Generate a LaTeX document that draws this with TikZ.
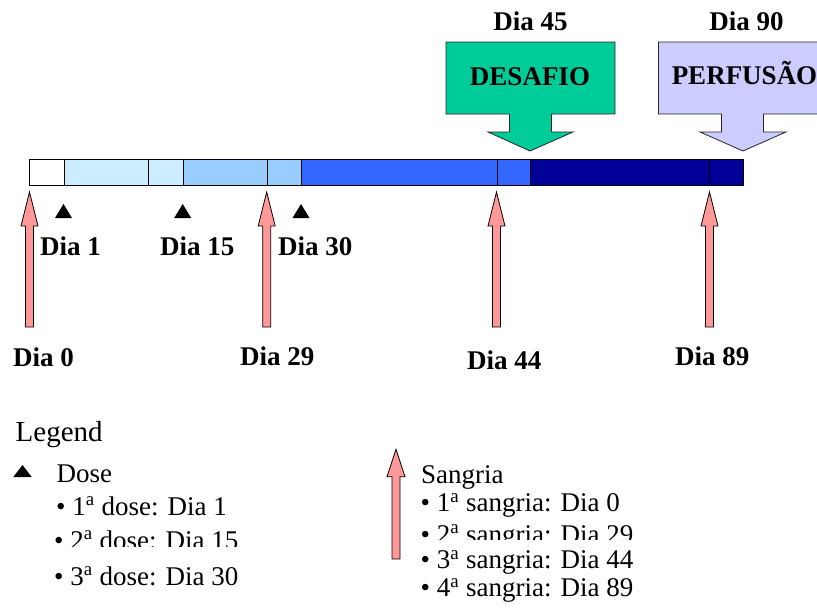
\documentclass[tikz,border=0pt]{standalone}
\usepackage{fontspec}
\setmainfont{Liberation Serif}
\definecolor{sangcol}{HTML}{FF9999}
\definecolor{cLight}{HTML}{CCECFF}
\definecolor{cMid}{HTML}{99CCFF}
\definecolor{cBlue}{HTML}{3366FF}
\definecolor{cNavy}{HTML}{000099}
\definecolor{cDesafio}{HTML}{00CC99}
\definecolor{cPerf}{HTML}{CCCCFF}
\begin{document}
\begin{tikzpicture}[x=1pt,y=-1pt,
  bar/.style={draw=black, line width=0.8pt},
  sangarrow/.style={fill=sangcol, draw=black, line width=0.8pt},
  callout/.style={draw=black!85, line width=0.8pt},
  lbl/.style={font=\fontsize{27}{32}\selectfont\bfseries, inner sep=0pt},
  leg/.style={font=\fontsize{27}{32}\selectfont, inner sep=0pt, anchor=base west},
  pics/sangria/.style={code={\draw[sangarrow] (0,0) -- (8.5,34) -- (4,34) -- (4,135) -- (-4,135) -- (-4,34) -- (-8.5,34) -- cycle;}},
  pics/dosetri/.style={code={\fill[black] (0,0) -- (8.5,14) -- (-8.5,14) -- cycle;}}
]
\clip (0,0) rectangle (817,608);

% callouts
\draw[callout, fill=cDesafio] (446,42) -- (615,42) -- (615,114) -- (551.5,114) -- (551.5,132) -- (573,132) -- (530,151) -- (488,132) -- (509.5,132) -- (509.5,114) -- (446,114) -- cycle;
\draw[callout, fill=cPerf] (658.5,42) -- (830,42) -- (830,114) -- (763.5,114) -- (763.5,132) -- (786,132) -- (743,151) -- (700,132) -- (721.5,132) -- (721.5,114) -- (658.5,114) -- cycle;

% bar
\draw[bar, fill=white] (29.5,159) rectangle (64,185);
\draw[bar, fill=cLight] (64,159) rectangle (148.5,185);
\draw[bar, fill=cLight] (148.5,159) rectangle (183,185);
\draw[bar, fill=cMid] (183,159) rectangle (267,185);
\draw[bar, fill=cMid] (267,159) rectangle (301,185);
\draw[bar, fill=cBlue] (301,159) rectangle (497,185);
\draw[bar, fill=cBlue] (497,159) rectangle (530,185);
\draw[bar, fill=cNavy] (530,159) rectangle (709.5,185);
\draw[bar, fill=cNavy] (709.5,159) rectangle (743.5,185);

% sangria arrows
\pic at (29.5,192) {sangria};
\pic at (266.7,192) {sangria};
\pic at (496.5,192) {sangria};
\pic at (709.5,192) {sangria};

% dose triangles
\pic at (63.5,204) {dosetri};
\pic at (182.7,204) {dosetri};
\pic at (301,204) {dosetri};

% labels
\node[lbl, anchor=base] (d45) at (530.5,30) {Dia 45};
\node[lbl, anchor=base] (d90) at (746.5,30) {Dia 90};
\node[lbl, anchor=base] (desafio) at (530,85) {DESAFIO};
\node[lbl, anchor=base] (perf) at (744.5,84.5) {PERFUSÃO};
\node[lbl, anchor=base west] (d1) at (40,255) {Dia 1};
\node[lbl, anchor=base west] (d15) at (160,255) {Dia 15};
\node[lbl, anchor=base west] (d30) at (278,255) {Dia 30};
\node[lbl, anchor=base west] (d0) at (13,366) {Dia 0};
\node[lbl, anchor=base west] (d29) at (240,365.5) {Dia 29};
\node[lbl, anchor=base west] (d44) at (467,369) {Dia 44};
\node[lbl, anchor=base west] (d89) at (675,365) {Dia 89};

% legend: dose
\node[leg, font=\fontsize{29}{34}\selectfont] (legend) at (15.5,441.7) {Legend};
\fill[black] (22.5,465) -- (31.7,477) -- (13.3,477) -- cycle;
\node[leg] (dose) at (56.5,482.7) {Dose};
\node[leg] (dose1) at (56,515) {\textbullet\ 1\textsuperscript{a} dose: Dia 1};
\begin{scope}
  \clip (0,0) rectangle (817,546.7);
  \node[leg] (dose2) at (54,549) {\textbullet\ 2\textsuperscript{a} dose: Dia 15};
\end{scope}
\node[leg] (dose3) at (54,585) {\textbullet\ 3\textsuperscript{a} dose: Dia 30};

% legend: sangria
\draw[sangarrow] (396,449.3) -- (405,476.7) -- (400,476.7) -- (400,559) -- (392,559) -- (392,476.7) -- (387,476.7) -- cycle;
\node[leg] (sang) at (421,483.3) {Sangria};
\node[leg] (sang1) at (420.5,511.7) {\textbullet\ 1\textsuperscript{a} sangria: Dia 0};
\begin{scope}
  \clip (0,0) rectangle (817,539.3);
  \node[leg] (sang2) at (420.5,543) {\textbullet\ 2\textsuperscript{a} sangria: Dia 29};
\end{scope}
\node[leg] (sang3) at (420.5,568.3) {\textbullet\ 3\textsuperscript{a} sangria: Dia 44};
\node[leg] (sang4) at (420.5,596.7) {\textbullet\ 4\textsuperscript{a} sangria: Dia 89};
\end{tikzpicture}
\end{document}
